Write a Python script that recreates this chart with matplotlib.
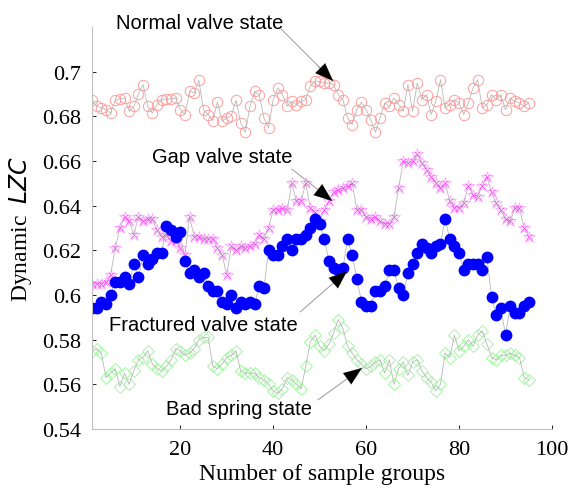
import numpy as np
from matplotlib import pyplot as plt
from matplotlib.ticker import FormatStrFormatter

#%% Data
normal = [
    0.6875, 0.6845, 0.6838, 0.6830, 0.6815, 0.6872, 0.6878, 0.6882, 0.6823, 0.6845,
    0.6900, 0.6942, 0.6845, 0.6815, 0.6852, 0.6875, 0.6878, 0.6878, 0.6882, 0.6830,
    0.6808, 0.6912, 0.6905, 0.6961, 0.6830, 0.6808, 0.6781, 0.6863, 0.6778, 0.6793,
    0.6803, 0.6872, 0.6771, 0.6729, 0.6845, 0.6912, 0.6897, 0.6793, 0.6748, 0.6875,
    0.6927, 0.6897, 0.6845, 0.6867, 0.6852, 0.6867, 0.6875, 0.6937, 0.6957, 0.6957,
    0.6949, 0.6949, 0.6942, 0.6897, 0.6875, 0.6793, 0.6763, 0.6830, 0.6863, 0.6830,
    0.6785, 0.6729, 0.6793, 0.6860, 0.6845, 0.6882, 0.6852, 0.6823, 0.6942, 0.6823,
    0.6949, 0.6875, 0.6897, 0.6808, 0.6867, 0.6964, 0.6838, 0.6852, 0.6875, 0.6860,
    0.6808, 0.6860, 0.6927, 0.6964, 0.6838, 0.6852, 0.6897, 0.6875, 0.6897, 0.6830,
    0.6882, 0.6867, 0.6860, 0.6845, 0.6860]
gap = [
    0.605, 0.605, 0.605, 0.606, 0.609, 0.621, 0.630, 0.635, 0.633, 0.627,
    0.635, 0.633, 0.634, 0.634, 0.629, 0.626, 0.627, 0.624, 0.624, 0.621,
    0.618, 0.635, 0.626, 0.626, 0.625, 0.625, 0.625, 0.621, 0.618, 0.609,
    0.622, 0.620, 0.622, 0.621, 0.622, 0.623, 0.627, 0.625, 0.630, 0.638,
    0.638, 0.639, 0.638, 0.650, 0.642, 0.642, 0.650, 0.639, 0.637, 0.633,
    0.638, 0.642, 0.646, 0.647, 0.648, 0.649, 0.650, 0.638, 0.638, 0.635,
    0.634, 0.635, 0.633, 0.632, 0.632, 0.635, 0.648, 0.660, 0.659, 0.660,
    0.663, 0.659, 0.656, 0.653, 0.650, 0.648, 0.650, 0.642, 0.639, 0.639,
    0.641, 0.649, 0.645, 0.644, 0.649, 0.653, 0.646, 0.641, 0.638, 0.634,
    0.633, 0.639, 0.639, 0.630, 0.626]
fractured = [
    0.594, 0.594, 0.597, 0.596, 0.600, 0.606, 0.606, 0.608, 0.605, 0.614,
    0.608, 0.618, 0.614, 0.616, 0.619, 0.619, 0.631, 0.629, 0.626, 0.628,
    0.615, 0.610, 0.611, 0.608, 0.610, 0.604, 0.602, 0.602, 0.597, 0.596,
    0.600, 0.594, 0.597, 0.596, 0.597, 0.596, 0.604, 0.603, 0.620, 0.618,
    0.618, 0.622, 0.625, 0.620, 0.625, 0.625, 0.627, 0.630, 0.634, 0.632,
    0.625, 0.615, 0.612, 0.611, 0.612, 0.625, 0.618, 0.607, 0.597, 0.595,
    0.595, 0.602, 0.602, 0.604, 0.611, 0.611, 0.603, 0.600, 0.610, 0.614,
    0.619, 0.623, 0.621, 0.619, 0.622, 0.623, 0.634, 0.625, 0.622, 0.619,
    0.611, 0.614, 0.614, 0.614, 0.611, 0.617, 0.599, 0.591, 0.594, 0.582,
    0.595, 0.592, 0.592, 0.595, 0.597]
bad_spring = [
    0.575, 0.576, 0.574, 0.563, 0.565, 0.567, 0.559, 0.565, 0.560, 0.566,
    0.571, 0.572, 0.575, 0.569, 0.567, 0.566, 0.568, 0.571, 0.576, 0.575,
    0.573, 0.574, 0.576, 0.580, 0.581, 0.581, 0.568, 0.567, 0.569, 0.572,
    0.573, 0.575, 0.566, 0.565, 0.565, 0.565, 0.563, 0.562, 0.560, 0.557,
    0.556, 0.558, 0.563, 0.562, 0.560, 0.558, 0.568, 0.579, 0.582, 0.577,
    0.575, 0.578, 0.583, 0.589, 0.585, 0.577, 0.574, 0.571, 0.569, 0.567,
    0.568, 0.570, 0.571, 0.565, 0.571, 0.560, 0.567, 0.570, 0.564, 0.570,
    0.571, 0.566, 0.563, 0.561, 0.557, 0.560, 0.574, 0.572, 0.582, 0.575,
    0.577, 0.580, 0.577, 0.582, 0.584, 0.578, 0.572, 0.571, 0.573, 0.573,
    0.574, 0.573, 0.572, 0.563, 0.562]

x_ticks = [20, 40, 60, 80, 100]
y_ticks = [0.54, 0.56, 0.58, 0.60, 0.62, 0.64, 0.66, 0.68, 0.70]

# label text, text position, arrow start, arrow tip (data coords)
labels = [
    ("Normal valve state", (24.2, 0.7220), (41.7, 0.7191), (52.9, 0.6958)),
    ("Gap valve state", (29.0, 0.6618), (44.0, 0.6564), (52.7, 0.6421)),
    ("Fractured valve state", (25.0, 0.5870), (45.8, 0.5924), (55.9, 0.6107)),
    ("Bad spring state", (32.6, 0.5490), (49.6, 0.5530), (59.1, 0.5673)),
]

#%% Plot
serif = ['Liberation Serif', 'DejaVu Serif']
sans = ['Liberation Sans', 'DejaVu Sans']

fig = plt.figure(figsize=(5.7, 4.89), dpi=100)
ax = fig.add_axes([0.1614, 0.1207, 0.8070, 0.8220])

line_kw = dict(color='0.72', lw=0.6)

def draw(vals, **marker_kw):
    xs = np.arange(1, len(vals) + 1)
    ax.plot(xs, vals, linestyle='none', **marker_kw)
    ax.plot(xs, vals, **line_kw)

draw(normal, marker='o', ms=7.5, mfc='none', mec='#ff9d9d', mew=0.7)
draw(gap, marker='*', ms=9, mfc='none', mec='#ffa6ff', mew=0.6)
ax.plot(np.arange(1, len(gap) + 1), gap, linestyle='none', marker='x', ms=5,
        mec='#ff00ff', mew=0.5, alpha=0.7)
draw(bad_spring, marker='D', ms=6, mfc='none', mec='#a6f5a6', mew=0.7)
ax.plot(np.arange(1, len(fractured) + 1), fractured, **line_kw)
ax.plot(np.arange(1, len(fractured) + 1), fractured, linestyle='none',
        marker='o', ms=7.5, mfc='#0000ff', mec='#0000ff')

ax.set_xlim(1, 100)
ax.set_ylim(0.54, 0.72)
ax.set_xticks(x_ticks)
ax.set_yticks(y_ticks)
ax.yaxis.set_major_formatter(FormatStrFormatter('%g'))
for sp in ('top', 'right'):
    ax.spines[sp].set_visible(False)
for sp in ('left', 'bottom'):
    ax.spines[sp].set_color('0.75')
    ax.spines[sp].set_linewidth(0.8)
ax.tick_params(direction='in', length=3, width=0.6, color='k', pad=8)
ax.tick_params(axis='x', pad=8)
for lab in ax.get_xticklabels() + ax.get_yticklabels():
    lab.set_family(serif)
    lab.set_fontsize(16)

ax.set_xlabel('Number of sample groups', family=serif, fontsize=17, labelpad=3)
ax.set_ylabel('Dynamic  $\\it{LZC}$', family=serif, fontsize=17, labelpad=6)

for text, pos, start, tip in labels:
    ax.text(pos[0], pos[1], text, family=sans, fontsize=14.5,
            ha='center', va='center', clip_on=False)
    ax.annotate('', xy=tip, xytext=start, annotation_clip=False,
                arrowprops=dict(arrowstyle='-', color='0.6', lw=0.7,
                                shrinkA=0, shrinkB=0))
    back = (tip[0] - 0.3 * (tip[0] - start[0]), tip[1] - 0.3 * (tip[1] - start[1]))
    ax.annotate('', xy=tip, xytext=back, annotation_clip=False,
                arrowprops=dict(arrowstyle='-|>,head_length=1.3,head_width=0.5',
                                color='k', lw=0.1, shrinkA=0, shrinkB=0))

fig.savefig('out.png', dpi=100)
